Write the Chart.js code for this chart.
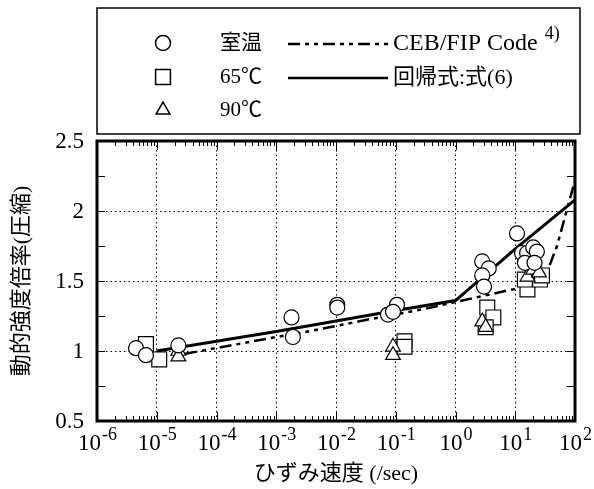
<!DOCTYPE html>
<html>
<head>
<meta charset="utf-8">
<script src="https://cdn.jsdelivr.net/npm/chart.js@4.4.0/dist/chart.umd.min.js"></script>
<style>
  html, body { margin: 0; padding: 0; background: #fff; }
  #wrap { width: 594px; height: 489px; }
</style>
</head>
<body>
<div id="wrap"><canvas id="c" width="594" height="489"></canvas></div>
<script>
// 動的強度倍率(圧縮) vs ひずみ速度 — 室温 / 65℃ / 90℃ と CEB/FIP, 回帰式

const xDecades = [-6, -5, -4, -3, -2, -1, 0, 1, 2];
const yTickValues = [0.5, 1, 1.5, 2, 2.5];
const yTickLabels = ['0.5', '1', '1.5', '2', '2.5'];

// 室温 (circles)
const roomX = [4.5e-6, 6.6e-6, 2.3e-5, 1.8e-3, 1.9e-3, 1.05e-2, 1.05e-2, 0.105, 0.074, 0.09,
               2.8, 3.6, 2.8, 3.0, 10.7, 13, 15.8, 20, 23, 14.5, 21];
const roomY = [1.02, 0.97, 1.04, 1.24, 1.10, 1.33, 1.31, 1.33, 1.26, 1.28,
               1.64, 1.59, 1.54, 1.46, 1.84, 1.70, 1.70, 1.74, 1.71, 1.63, 1.63];
// 65℃ (squares)
const t65X = [6.6e-6, 1.1e-5, 0.14, 0.14, 3.4, 4.3, 3.2, 16, 14.5, 26, 28];
const t65Y = [1.05, 0.94, 1.07, 1.03, 1.31, 1.24, 1.17, 1.44, 1.51, 1.51, 1.54];
// 90℃ (triangles)
const t90X = [2.3e-5, 2.3e-5, 0.09, 0.09, 2.8, 3.2, 16, 20, 25];
const t90Y = [1.00, 0.96, 1.03, 0.97, 1.21, 1.17, 1.53, 1.58, 1.56];
// CEB/FIP Code (dash-dot)
const cebX = [3e-5, 1e-3, 4e-3, 3e-2, 0.3, 1, 9, 28, 50, 100];
const cebY = [0.98, 1.10, 1.145, 1.22, 1.30, 1.35, 1.44, 1.47, 1.75, 2.22];
// 回帰式:式(6) (solid)
const regX = [1e-5, 1e-3, 1e-1, 1, 10, 100];
const regY = [1.00, 1.14, 1.29, 1.36, 1.73, 2.08];

function pts(xs, ys){ return xs.map((x, i) => ({ x: x, y: ys[i] })); }

// latin glyphs serif, kana/kanji fall back to gothic
const FONT = '"Liberation Serif", "Noto Sans CJK JP", serif';

function drawSup(ctx, base, sup, cx, y, baseSize, supSize){
  ctx.font = baseSize + 'px ' + FONT;
  const wb = ctx.measureText(base).width;
  ctx.font = supSize + 'px ' + FONT;
  const ws = ctx.measureText(sup).width;
  let x = cx - (wb + ws) / 2;
  ctx.textAlign = 'left';
  ctx.textBaseline = 'alphabetic';
  ctx.font = baseSize + 'px ' + FONT;
  ctx.fillText(base, x, y);
  ctx.font = supSize + 'px ' + FONT;
  ctx.fillText(sup, x + wb + 1, y - baseSize * 0.45);
}

const decor = {
  id: 'decor',
  beforeDraw(chart){
    const ctx = chart.ctx;
    ctx.save();
    ctx.fillStyle = '#fff';
    ctx.fillRect(0, 0, chart.width, chart.height);
    ctx.restore();
  },
  afterDraw(chart){
    const ctx = chart.ctx;
    const a = chart.chartArea;
    const xs = chart.scales.x, ys = chart.scales.y;
    ctx.save();
    ctx.strokeStyle = '#000';
    ctx.fillStyle = '#000';

    // inward ticks, x (bottom and top)
    ctx.lineWidth = 1;
    ctx.beginPath();
    xDecades.forEach(e => {
      const px = Math.round(xs.getPixelForValue(Math.pow(10, e))) + 0.5;
      ctx.moveTo(px, a.bottom); ctx.lineTo(px, a.bottom - 9);
      ctx.moveTo(px, a.top); ctx.lineTo(px, a.top + 9);
      if (e < 2) {
        for (let m = 2; m <= 9; m++) {
          const mx = Math.round(xs.getPixelForValue(m * Math.pow(10, e))) + 0.5;
          ctx.moveTo(mx, a.bottom); ctx.lineTo(mx, a.bottom - 5);
          ctx.moveTo(mx, a.top); ctx.lineTo(mx, a.top + 5);
        }
      }
    });
    // inward ticks, y (left and right)
    for (let v = 0.75; v < 2.5; v += 0.25) {
      const py = Math.round(ys.getPixelForValue(v)) + 0.5;
      ctx.moveTo(a.left, py); ctx.lineTo(a.left + 8, py);
      ctx.moveTo(a.right, py); ctx.lineTo(a.right - 8, py);
    }
    ctx.stroke();

    // frame
    ctx.lineWidth = 3;
    ctx.strokeRect(a.left, a.top, a.right - a.left, a.bottom - a.top);

    // y tick labels
    ctx.font = '23px ' + FONT;
    ctx.textAlign = 'right';
    ctx.textBaseline = 'middle';
    yTickValues.forEach((v, i) => {
      ctx.fillText(yTickLabels[i], a.left - 13, ys.getPixelForValue(v) + 1);
    });

    // x tick labels 10^n
    xDecades.forEach(e => {
      drawSup(ctx, '10', String(e), xs.getPixelForValue(Math.pow(10, e)), a.bottom + 29, 23, 18);
    });

    // axis titles
    ctx.font = '22px ' + FONT;
    ctx.textAlign = 'center';
    ctx.textBaseline = 'middle';
    ctx.fillText('ひずみ速度 (/sec)', (a.left + a.right) / 2, 474);
    ctx.save();
    ctx.translate(22, (a.top + a.bottom) / 2);
    ctx.rotate(-Math.PI / 2);
    ctx.fillText('動的強度倍率(圧縮)', 0, 0);
    ctx.restore();

    // legend box
    ctx.lineWidth = 1.5;
    ctx.strokeRect(97, 8, 483, 126);
    const mk = { borderColor: '#000', backgroundColor: '#fff', borderWidth: 1.2 };
    ctx.fillStyle = '#fff';
    Chart.helpers.drawPoint(ctx, Object.assign({ pointStyle: 'circle', radius: 7.5 }, mk), 163, 43);
    Chart.helpers.drawPoint(ctx, Object.assign({ pointStyle: 'rect', radius: 10.5 }, mk), 163, 77);
    Chart.helpers.drawPoint(ctx, Object.assign({ pointStyle: 'triangle', radius: 8 }, mk), 163, 110);
    ctx.fillStyle = '#000';
    ctx.textAlign = 'left';
    ctx.textBaseline = 'middle';
    ctx.font = '21px ' + FONT;
    ctx.fillText('室温', 220, 43);
    ctx.fillText('65℃', 220, 77);
    ctx.fillText('90℃', 220, 110);
    // line samples
    ctx.lineWidth = 2.5;
    ctx.setLineDash([12, 5, 4, 5, 4, 5]);
    ctx.beginPath(); ctx.moveTo(288, 44); ctx.lineTo(388, 44); ctx.stroke();
    ctx.setLineDash([]);
    ctx.beginPath(); ctx.moveTo(288, 78); ctx.lineTo(388, 78); ctx.stroke();
    ctx.font = '24px ' + FONT;
    ctx.fillText('CEB/FIP Code', 393, 44);
    const cw = ctx.measureText('CEB/FIP Code').width;
    ctx.font = '18px ' + FONT;
    ctx.fillText('4)', 393 + cw + 7, 34);
    ctx.font = '22px ' + FONT;
    ctx.fillText('回帰式:式(6)', 393, 78);
    ctx.restore();
  }
};

const markerBase = { showLine: false, pointBackgroundColor: '#fff', pointBorderColor: '#000', pointBorderWidth: 1.2 };

new Chart(document.getElementById('c'), {
  type: 'scatter',
  data: {
    datasets: [
      Object.assign({ label: '室温', data: pts(roomX, roomY), pointStyle: 'circle', pointRadius: 7.5 }, markerBase),
      Object.assign({ label: '90℃', data: pts(t90X, t90Y), pointStyle: 'triangle', pointRadius: 8.5 }, markerBase),
      Object.assign({ label: '65℃', data: pts(t65X, t65Y), pointStyle: 'rect', pointRadius: 10.5 }, markerBase),
      { label: '回帰式:式(6)', data: pts(regX, regY), showLine: true, borderColor: '#000', borderWidth: 3, pointRadius: 0, tension: 0 },
      { label: 'CEB/FIP Code', data: pts(cebX, cebY), showLine: true, borderColor: '#000', borderWidth: 2.5, borderDash: [12, 5, 4, 5, 4, 5], pointRadius: 0, tension: 0 }
    ]
  },
  options: {
    responsive: false,
    animation: false,
    layout: { padding: { left: 97, right: 19, top: 141, bottom: 68 } },
    plugins: { legend: { display: false }, tooltip: { enabled: false } },
    scales: {
      x: {
        type: 'logarithmic', min: 1e-6, max: 100,
        afterBuildTicks: s => { s.ticks = xDecades.map(e => ({ value: Math.pow(10, e) })); },
        ticks: { display: false },
        grid: { color: '#000', lineWidth: 1, drawTicks: false },
        border: { display: false, dash: [1.5, 3] }
      },
      y: {
        min: 0.5, max: 2.5,
        afterBuildTicks: s => { s.ticks = yTickValues.map(v => ({ value: v })); },
        ticks: { display: false },
        grid: { color: '#000', lineWidth: 1, drawTicks: false },
        border: { display: false, dash: [1.5, 3] }
      }
    }
  },
  plugins: [decor]
});
</script>
</body>
</html>
